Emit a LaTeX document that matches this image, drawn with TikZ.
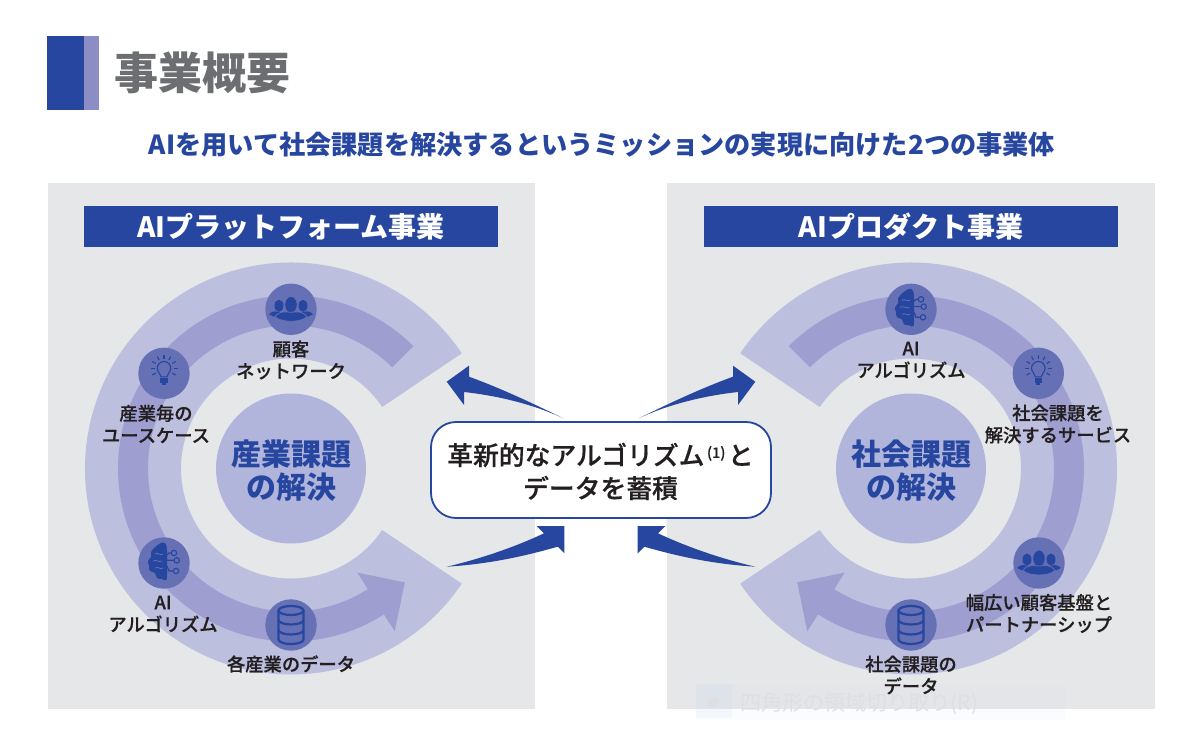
\documentclass[tikz,border=0pt]{standalone}
\usepackage{fontspec}
\setmainfont{Noto Sans CJK JP}
\newfontfamily\mediumfont[FakeBold=0.5]{Noto Sans CJK JP Medium}
\usetikzlibrary{calc}
\definecolor{dkblue}{HTML}{27469F}
\definecolor{lilac}{HTML}{8D8DC6}
\definecolor{panelgray}{HTML}{E6E7E9}
\definecolor{ringlight}{HTML}{BDBFDF}
\definecolor{ringdark}{HTML}{9E9FD0}
\definecolor{hubfill}{HTML}{B1B5DC}
\definecolor{iconfill}{HTML}{6570B5}
\definecolor{titlegray}{HTML}{6D6E71}
\definecolor{inkblack}{HTML}{231F20}
\definecolor{ghosttext}{HTML}{DDDFE3}
\definecolor{ghostblue}{HTML}{B9D3F2}

\tikzset{
  panel/.style={fill=panelgray, draw=none},
  headbar/.style={fill=dkblue, text=white, font=\fontsize{28}{30}\selectfont\bfseries,
    minimum width=414pt, minimum height=41pt, inner sep=0pt},
  hub/.style={circle, fill=hubfill, minimum size=150pt, inner sep=0pt},
  hubtext/.style={align=center, inner sep=0pt, text=dkblue,
    font=\fontsize{30}{33}\selectfont\bfseries},
  iconbg/.style={circle, fill=iconfill, minimum size=51.4pt, inner sep=0pt},
  steplabel/.style={text=inkblack, align=center, inner sep=0pt,
    font=\fontsize{18.3}{22}\selectfont\mediumfont},
  % ring with the darker band and its arrow; drawn opening to the right
  cyclering/.pic={
    \fill[ringlight] (34:206) arc[start angle=34, end angle=326, radius=206]
      -- (326:110) arc[start angle=326, end angle=34, radius=110] -- cycle;
    \fill[ringdark] (45:173) arc[start angle=45, end angle=302.5, radius=173]
      -- (302.5:193) -- (315:161) -- (302.5:123.5) -- (302.5:143)
      arc[start angle=302.5, end angle=45, radius=143] -- cycle;
  },
  % curved arrows round the centre box, left-hand versions
  arrowup/.pic={
    \fill[dkblue] (563.3,-418.3) .. controls (530,-402) and (500,-388) .. (469,-376.7)
      -- (469,-365.7) -- (446.7,-381.7) -- (464,-405) -- (464,-392)
      .. controls (500,-396) and (535,-405) .. cycle;
  },
  arrowdown/.pic={
    \fill[dkblue] (446.7,-566.7) .. controls (480,-559) and (515,-547) .. (544,-533.3)
      -- (536.7,-526) -- (564.3,-526) -- (564.3,-553.3) -- (557.7,-546.7)
      .. controls (525,-556) and (490,-564) .. cycle;
  },
  peopleicon/.pic={
    \fill[dkblue] (-12,3.5) ellipse (4.5 and 6);
    \fill[dkblue] (12,3.5) ellipse (4.5 and 6);
    \fill[dkblue] (-22,-5) .. controls (-18,-1) and (-15,-2) .. (-10,-3)
      -- (10,-3) .. controls (15,-2) and (18,-1) .. (22,-5)
      .. controls (16,-9) and (8,-9) .. (0,-9) .. controls (-8,-9) and (-16,-9) .. cycle;
    \fill[dkblue, draw=iconfill, line width=.8pt] (0,4.5) ellipse (6.2 and 8.5);
    \fill[dkblue, draw=iconfill, line width=.8pt] (-16,-7.5) .. controls (-12,-1.5) and (-6,-2.5) .. (0,-3)
      .. controls (6,-2.5) and (12,-1.5) .. (16,-7.5)
      .. controls (10,-13.5) and (-10,-13.5) .. cycle;
  },
  bulbicon/.pic={
    \draw[dkblue, line width=1.1pt] (-3,-3.5) .. controls (-3,0) and (-6.8,1) .. (-6.8,5)
      arc[start angle=180, end angle=0, radius=6.8]
      .. controls (6.8,1) and (3,0) .. (3,-3.5) -- cycle;
    \fill[dkblue] (-3.6,-5) rectangle (3.6,-9.5);
    \fill[dkblue] (-2,-9.5) rectangle (2,-11.5);
    \foreach \a in {-30,0,...,210} {
      \draw[dkblue, line width=1.1pt] ($(0,5)+(\a:9.5)$) -- ($(0,5)+(\a:13.5)$);
    }
  },
  brainicon/.pic={
    \fill[dkblue] plot[smooth cycle, tension=.8] coordinates {
      (1,20) (-5,19) (-10,15) (-13,11) (-13,6) (-16,2) (-15,-3) (-14,-8)
      (-9,-10) (-7,-15) (-2,-16) (2,-17) (3,-12) (3,0) (3,12)};
    \draw[iconfill, line width=.8pt] (-9,9) .. controls (-6,11) and (-4,7) .. (-1,9)
      (-11,2) .. controls (-7,4) and (-5,0) .. (-2,2)
      (-9,-5) .. controls (-6,-3) and (-4,-7) .. (-1,-5);
    \draw[dkblue, line width=1.2pt] (3,8) -- (5,10) -- (7.3,10)
      (3,2.7) -- (10,2.7)
      (3,-3) -- (5,-8) -- (9.3,-8);
    \draw[dkblue, line width=1.1pt] (10,10) circle (2.7) (12.7,2.7) circle (2.7) (12,-8) circle (2.7);
  },
  dbicon/.pic={
    \draw[dkblue, line width=2.2pt, line join=round]
      (-12.5,14.5) -- (-12.5,-14.5) arc[start angle=180, end angle=360, x radius=12.5, y radius=4.5]
      -- (12.5,14.5);
    \draw[dkblue, line width=2.2pt] (0,14.5) ellipse (12.5 and 4.5);
    \draw[dkblue, line width=2.2pt] (-12.5,5) arc[start angle=180, end angle=360, x radius=12.5, y radius=4.5];
    \draw[dkblue, line width=2.2pt] (-12.5,-5) arc[start angle=180, end angle=360, x radius=12.5, y radius=4.5];
  }
}

\begin{document}
\begin{tikzpicture}[x=1pt, y=1pt]

\useasboundingbox (0,0) rectangle (1200,-730);
\fill[white] (0,0) rectangle (1200,-730);

% Title block
\fill[dkblue] (47.3,-35.7) rectangle (84.3,-110);
\fill[lilac] (84.3,-35.7) rectangle (99.3,-110);
\node[text=titlegray, font=\fontsize{44}{48}\selectfont\bfseries, inner sep=0pt] (pagetitle)
  at (202.5,-73) {事業概要};
\node[text=dkblue, font=\fontsize{26.2}{30}\selectfont\bfseries, inner sep=0pt] (subtitle)
  at (602,-145) {AIを用いて社会課題を解決するというミッションの実現に向けた2つの事業体};

% Panels
\fill[panel] (47.5,-183.5) rectangle (535,-709);
\fill[panel] (667,-183.5) rectangle (1155,-709);

% Faint leftover at the bottom of the right panel
\fill[ghostblue, opacity=.06] (696,-684) rectangle (1065,-720);
\fill[ghostblue, opacity=.10] (696,-684) rectangle (731.5,-718);
\fill[ghosttext] (713,-702) circle (5);
\node[text=ghosttext, font=\fontsize{21}{24}\selectfont, inner sep=0pt] (ghostnote)
  at (859.5,-704) {四角形の領域切り取り(R)};

\node[headbar] (platformbar) at (291,-226.5) {AIプラットフォーム事業};
\node[headbar] (productbar) at (911,-226.5) {AIプロダクト事業};

% Rings
\pic at (291,-468.5) {cyclering};
\pic[xscale=-1] at (911,-468.5) {cyclering};

% Hubs
\node[hub] (leftHub) at (291,-468.5) {};
\node[hub] (rightHub) at (911,-468.5) {};
\node[hubtext] (leftHubText) at (291,-471) {産業課題\\の解決};
\node[hubtext] (rightHubText) at (911,-471) {社会課題\\の解決};

% Left icons
\node[iconbg] (leftPeople) at (291,-309.3) {};
\node[iconbg] (leftBulb) at (164,-373.3) {};
\node[iconbg] (leftBrain) at (164,-563) {};
\node[iconbg] (leftData) at (291,-625) {};
\pic at (leftPeople) {peopleicon};
\pic at (leftBulb) {bulbicon};
\pic at (leftBrain) {brainicon};
\pic at (leftData) {dbicon};

% Right icons
\node[iconbg] (rightBrain) at (911,-309.3) {};
\node[iconbg] (rightBulb) at (1038.3,-373.3) {};
\node[iconbg] (rightPeople) at (1039,-563) {};
\node[iconbg] (rightData) at (911,-625) {};
\pic at (rightBrain) {brainicon};
\pic at (rightBulb) {bulbicon};
\pic at (rightPeople) {peopleicon};
\pic at (rightData) {dbicon};

% Left labels
\node[steplabel] (leftPeopleText) at (291,-360) {顧客\\ネットワーク};
\node[steplabel] (leftBulbText) at (156,-424) {産業毎の\\ユースケース};
\node[steplabel] (leftBrainText) at (163,-614) {AI\\アルゴリズム};
\node[steplabel] (leftDataText) at (291,-664) {各産業のデータ};

% Right labels
\node[steplabel] (rightBrainText) at (911,-360) {AI\\アルゴリズム};
\node[steplabel] (rightBulbText) at (1058,-424) {社会課題を\\解決するサービス};
\node[steplabel] (rightPeopleText) at (1039,-613.5) {幅広い顧客基盤と\\パートナーシップ};
\node[steplabel] (rightDataText) at (911,-675) {社会課題の\\データ};

% Arrows round the centre box
\pic at (0,0) {arrowup};
\pic at (0,0) {arrowdown};
\pic[xscale=-1] at (1202,0) {arrowup};
\pic[xscale=-1] at (1202,0) {arrowdown};

% Centre box
\node[fill=white, draw=dkblue, line width=1.8pt, rounded corners=25pt,
      minimum width=340pt, minimum height=96pt] (centerBox) at (601,-470) {};
\node[align=center, inner sep=0pt, text=inkblack,
      font=\fontsize{25.8}{33}\selectfont\mediumfont] (centerText) at (600.5,-471.5)
  {革新的なアルゴリズム\raisebox{7pt}{\fontsize{14.5}{14.5}\selectfont\,(1)\,}と\\データを蓄積};

\end{tikzpicture}
\end{document}
